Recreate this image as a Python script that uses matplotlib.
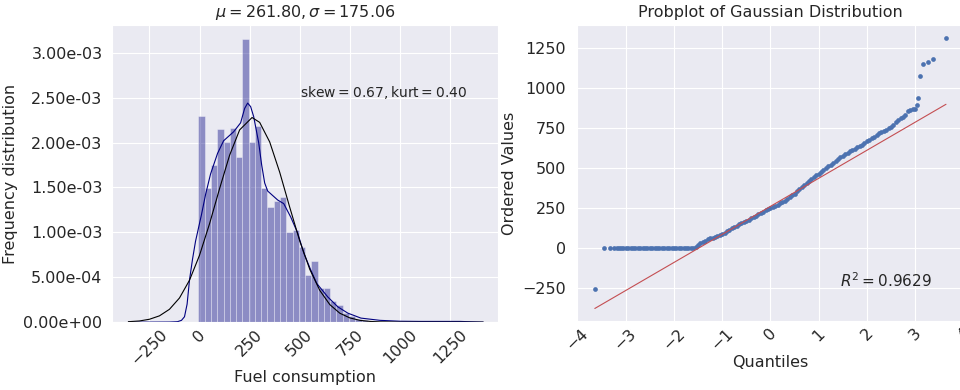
import matplotlib
matplotlib.use('Agg')
import matplotlib.pyplot as plt
import numpy as np
import seaborn as sns
from matplotlib.ticker import FormatStrFormatter

sns.set_style('darkgrid')
plt.rcParams['font.family'] = ['DejaVu Sans']
plt.rcParams['mathtext.fontset'] = 'dejavusans'

# --- left panel: density histogram of fuel consumption (heights in 1e-3) ---
bin_edges = [-5.6, 25.7, 57.0, 88.3, 119.6, 150.9, 182.2, 213.5, 244.8, 276.1,
             307.4, 338.7, 370.0, 401.3, 432.6, 463.9, 495.2, 526.5, 557.8,
             589.1, 620.4, 651.7, 683.0, 714.3, 745.6, 776.9, 808.2, 839.5]
bin_heights = [2.30, 1.49, 1.75, 2.15, 2.01, 2.16, 1.84, 3.15, 2.01, 2.18,
               1.49, 1.28, 1.35, 1.39, 1.00, 1.03, 0.84, 0.52, 0.68, 0.38,
               0.38, 0.23, 0.19, 0.10, 0.07, 0.03, 0.02]

# kde curve (heights in 1e-3)
kde_x = [-355, -250, -150, -110, -90, -75, -62, -50, -35, -20, -5, 10, 30, 55,
         90, 120, 170, 205, 225, 240, 255, 270, 295, 310, 325, 340, 360, 390,
         420, 455, 490, 520, 555, 585, 640, 690, 740, 805, 900, 1000, 1100,
         1200, 1300, 1415]
kde_y = [0.0, 0.0, 0.001, 0.005, 0.02, 0.06, 0.2, 0.47, 0.70, 0.90, 1.05,
         1.20, 1.42, 1.65, 1.88, 2.02, 2.12, 2.22, 2.38, 2.44, 2.40, 2.29,
         2.00, 1.75, 1.55, 1.46, 1.42, 1.36, 1.32, 1.17, 0.99, 0.77, 0.58,
         0.43, 0.28, 0.17, 0.10, 0.045, 0.02, 0.01, 0.008, 0.008, 0.008, 0.0]

# fitted normal curve (heights in 1e-3)
norm_x = [-355, -300, -250, -200, -150, -100, -50, 0, 50, 100, 150, 200, 262,
          300, 350, 400, 450, 500, 550, 600, 650, 700, 750, 800, 850, 900,
          1000, 1200, 1415]
norm_y = [0.005, 0.013, 0.032, 0.070, 0.143, 0.269, 0.467, 0.745, 1.096,
          1.487, 1.859, 2.141, 2.279, 2.225, 2.007, 1.669, 1.279, 0.903,
          0.588, 0.353, 0.195, 0.099, 0.047, 0.020, 0.008, 0.003, 0.0, 0.0,
          0.0]

x_ticks_left = [-250, 0, 250, 500, 750, 1000, 1250]
y_ticks_left = [0, 0.0005, 0.001, 0.0015, 0.002, 0.0025, 0.003]

# --- right panel: probability plot ---
pp_q = [-3.64, -3.45, -3.33, -3.25, -3.19, -3.14,
        -3.10, -3.05, -3.00, -2.95, -2.90, -2.85, -2.80, -2.75, -2.70, -2.65,
        -2.60, -2.55, -2.50, -2.45, -2.40, -2.35, -2.30, -2.25, -2.20, -2.15,
        -2.10, -2.05, -2.00, -1.95, -1.90, -1.85, -1.80, -1.75, -1.70, -1.65,
        -1.60, -1.55, -1.50, -1.45, -1.40, -1.35, -1.30, -1.25, -1.20, -1.15,
        -1.10, -1.05, -1.00, -0.95, -0.90, -0.85, -0.80, -0.75, -0.70, -0.65,
        -0.60, -0.55, -0.50, -0.45, -0.40, -0.35, -0.30, -0.25, -0.20, -0.15,
        -0.10, -0.05, 0.00, 0.05, 0.10, 0.15, 0.20, 0.25, 0.30, 0.35,
        0.40, 0.45, 0.50, 0.55, 0.60, 0.65, 0.70, 0.75, 0.80, 0.85,
        0.90, 0.95, 1.00, 1.05, 1.10, 1.15, 1.20, 1.25, 1.30, 1.35,
        1.40, 1.45, 1.50, 1.55, 1.60, 1.65, 1.70, 1.75, 1.80, 1.85,
        1.90, 1.95, 2.00, 2.05, 2.10, 2.15, 2.20, 2.25, 2.30, 2.35,
        2.40, 2.45, 2.50, 2.55, 2.60, 2.65, 2.70, 2.75, 2.80, 2.85,
        2.90, 2.95, 3.00, 3.03, 3.06, 3.10, 3.16, 3.26, 3.37, 3.64]
pp_v = [-256, 0, 0, 0, 0, 0,
        0, 0, 0, 0, 0, 0, 0, 0, 0, 0,
        0, 0, 0, 0, 0, 0, 0, 0, 0, 0,
        0, 0, 0, 0, 0, 0, 0, 0, 0, 0,
        0, 10, 22, 31, 40, 48, 56, 62, 67, 71,
        76, 81, 88, 97, 106, 115, 125, 134, 142, 150,
        157, 164, 172, 180, 188, 196, 204, 212, 220, 229,
        237, 244, 250, 258, 265, 272, 280, 289, 298, 308,
        318, 330, 342, 355, 370, 383, 396, 408, 420, 433,
        446, 457, 467, 479, 490, 501, 512, 523, 535, 546,
        556, 567, 577, 587, 596, 605, 613, 622, 631, 640,
        648, 657, 667, 676, 688, 698, 708, 717, 725, 733,
        741, 748, 755, 770, 790, 803, 812, 822, 832, 860,
        865, 867, 872, 895, 938, 1078, 1150, 1163, 1181, 1312]
fit_q = [-3.64, 3.64]
fit_v = [-375, 899]

x_ticks_right = [-4, -3, -2, -1, 0, 1, 2, 3, 4]
y_ticks_right = [-250, 0, 250, 500, 750, 1000, 1250]

fs = 11.5

fig = plt.figure(figsize=(9.6, 3.9), dpi=100)

ax1 = fig.add_axes([0.117, 0.174, 0.402, 0.762])
edges = np.array(bin_edges)
ax1.bar(edges[:-1], np.array(bin_heights) * 1e-3, width=np.diff(edges),
        align='edge', color='navy', alpha=0.4, edgecolor='white', linewidth=0.6)
ax1.plot(kde_x, np.array(kde_y) * 1e-3, color='navy', linewidth=0.8)
ax1.plot(norm_x, np.array(norm_y) * 1e-3, color='black', linewidth=0.8)
ax1.set_xlim(-435, 1490)
ax1.set_ylim(0, 3.31e-3)
ax1.set_xticks(x_ticks_left)
ax1.set_yticks(y_ticks_left)
ax1.yaxis.set_major_formatter(FormatStrFormatter('%.2e'))
ax1.tick_params(labelsize=fs)
ax1.tick_params(axis='x', pad=0)
plt.setp(ax1.get_xticklabels(), rotation=45)
ax1.set_xlabel('Fuel consumption', fontsize=fs, labelpad=1)
ax1.set_ylabel('Frequency distribution', fontsize=fs)
ax1.set_title(r'$\mu=261.80, \sigma=175.06$', fontsize=fs)
ax1.text(0.487, 0.774, r'$\mathrm{skew} = 0.67, \mathrm{kurt} = 0.40$',
         transform=ax1.transAxes, fontsize=10, va='center')

ax2 = fig.add_axes([0.6, 0.177, 0.405, 0.759])
ax2.plot(pp_q, pp_v, 'o', color='#4c72b0', markersize=3.4,
         markeredgewidth=0)
ax2.plot(fit_q, fit_v, '-', color='#c44e52', linewidth=0.8)
ax2.set_xlim(-4.03, 4.03)
ax2.set_ylim(-453, 1394)
ax2.set_xticks(x_ticks_right)
ax2.set_yticks(y_ticks_right)
ax2.tick_params(labelsize=fs)
ax2.tick_params(axis='x', pad=0)
plt.setp(ax2.get_xticklabels(), rotation=45)
ax2.set_xlabel('Quantiles', fontsize=fs, labelpad=1)
ax2.set_ylabel('Ordered Values', fontsize=fs)
ax2.set_title('Probplot of Gaussian Distribution', fontsize=fs)
ax2.text(0.679, 0.135, r'$R^2 = 0.9629$', transform=ax2.transAxes,
         fontsize=11, va='center')

fig.savefig('out.png', dpi=100)
